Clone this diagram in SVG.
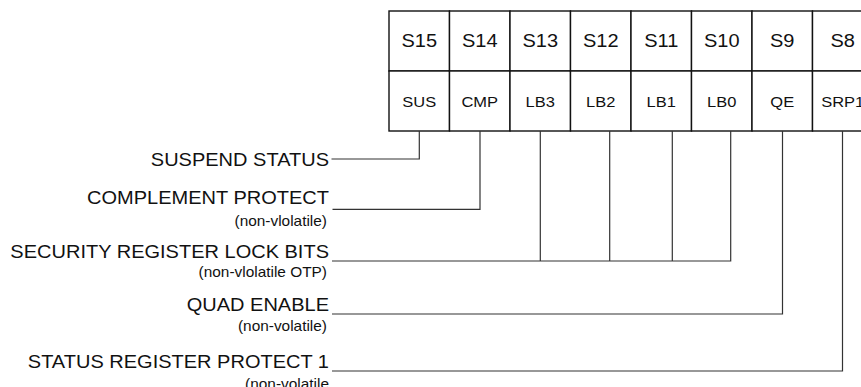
<svg xmlns="http://www.w3.org/2000/svg" width="861" height="387" viewBox="0 0 861 387">
  <style>
    text { font-family: "Liberation Sans", Arial, sans-serif; fill: #111; }
    .lbl { font-size: 18.7px; text-anchor: end; }
    .sub { font-size: 14.4px; text-anchor: end; }
    .hd { font-size: 18.7px; text-anchor: middle; }
    .bit { font-size: 15.4px; text-anchor: middle; }
    .cell { fill: #fff; stroke: #111; stroke-width: 1.4; }
    .wire { fill: none; stroke: #333; stroke-width: 1.2; }
  </style>
  <rect width="861" height="387" fill="#fff"/>

  <g id="register">
    <g id="bit-s15"><rect class="cell" x="389" y="11" width="60.5" height="60"/><rect class="cell" x="389" y="71" width="60.5" height="60"/>
      <text class="hd" transform="translate(419.25 47) scale(1.07 1)">S15</text><text class="bit" transform="translate(419.25 106.5) scale(1.07 1)">SUS</text></g>
    <g id="bit-s14"><rect class="cell" x="449.5" y="11" width="60.5" height="60"/><rect class="cell" x="449.5" y="71" width="60.5" height="60"/>
      <text class="hd" transform="translate(479.75 47) scale(1.07 1)">S14</text><text class="bit" transform="translate(479.75 106.5) scale(1.07 1)">CMP</text></g>
    <g id="bit-s13"><rect class="cell" x="510" y="11" width="60.5" height="60"/><rect class="cell" x="510" y="71" width="60.5" height="60"/>
      <text class="hd" transform="translate(540.25 47) scale(1.07 1)">S13</text><text class="bit" transform="translate(540.25 106.5) scale(1.07 1)">LB3</text></g>
    <g id="bit-s12"><rect class="cell" x="570.5" y="11" width="60.5" height="60"/><rect class="cell" x="570.5" y="71" width="60.5" height="60"/>
      <text class="hd" transform="translate(600.75 47) scale(1.07 1)">S12</text><text class="bit" transform="translate(600.75 106.5) scale(1.07 1)">LB2</text></g>
    <g id="bit-s11"><rect class="cell" x="631" y="11" width="60.5" height="60"/><rect class="cell" x="631" y="71" width="60.5" height="60"/>
      <text class="hd" transform="translate(661.25 47) scale(1.07 1)">S11</text><text class="bit" transform="translate(661.25 106.5) scale(1.07 1)">LB1</text></g>
    <g id="bit-s10"><rect class="cell" x="691.5" y="11" width="60.5" height="60"/><rect class="cell" x="691.5" y="71" width="60.5" height="60"/>
      <text class="hd" transform="translate(721.75 47) scale(1.07 1)">S10</text><text class="bit" transform="translate(721.75 106.5) scale(1.07 1)">LB0</text></g>
    <g id="bit-s9"><rect class="cell" x="752" y="11" width="60.5" height="60"/><rect class="cell" x="752" y="71" width="60.5" height="60"/>
      <text class="hd" transform="translate(782.25 47) scale(1.07 1)">S9</text><text class="bit" transform="translate(782.25 106.5) scale(1.07 1)">QE</text></g>
    <g id="bit-s8"><rect class="cell" x="812.5" y="11" width="60.5" height="60"/><rect class="cell" x="812.5" y="71" width="60.5" height="60"/>
      <text class="hd" transform="translate(842.75 47) scale(1.07 1)">S8</text><text class="bit" transform="translate(842.75 106.5) scale(1.07 1)">SRP1</text></g>
  </g>

  <g id="connectors">
    <path class="wire" d="M419.3 131 V159 H331.5"/>
    <path class="wire" d="M480 131 V209.3 H332.5"/>
    <path class="wire" d="M540.3 131 V261 M609.7 131 V261 M672.3 131 V261 M730.7 131 V261 H332"/>
    <path class="wire" d="M782.5 131 V314 H332"/>
    <path class="wire" d="M842.5 131 V371 H332"/>
  </g>

  <g id="label-sus">
    <text class="lbl" transform="translate(329 166) scale(1.07 1)">SUSPEND STATUS</text>
  </g>
  <g id="label-cmp">
    <text class="lbl" transform="translate(329 204) scale(1.07 1)">COMPLEMENT PROTECT</text>
    <text class="sub" transform="translate(327 226) scale(1.07 1)">(non-vlolatile)</text>
  </g>
  <g id="label-lb">
    <text class="lbl" transform="translate(329 257.5) scale(1.07 1)">SECURITY REGISTER LOCK BITS</text>
    <text class="sub" transform="translate(327 277) scale(1.07 1)">(non-vlolatile OTP)</text>
  </g>
  <g id="label-qe">
    <text class="lbl" transform="translate(329 311) scale(1.07 1)">QUAD ENABLE</text>
    <text class="sub" transform="translate(327 331) scale(1.07 1)">(non-volatile)</text>
  </g>
  <g id="label-srp1">
    <text class="lbl" transform="translate(329 367.7) scale(1.07 1)">STATUS REGISTER PROTECT 1</text>
    <text class="sub" transform="translate(329 388.5) scale(1.07 1)">(non-volatile</text>
  </g>
</svg>
